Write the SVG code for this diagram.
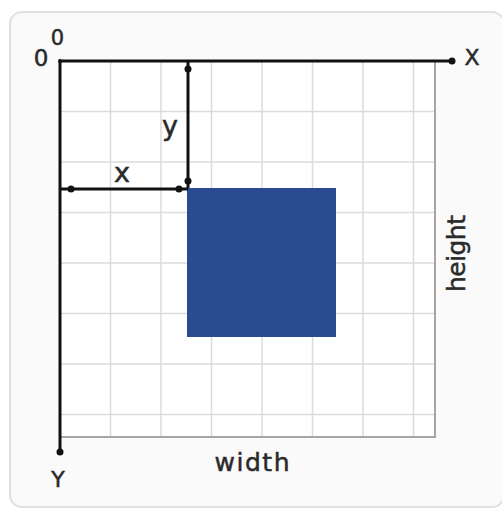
<svg xmlns="http://www.w3.org/2000/svg" width="502" height="509" viewBox="0 0 502 509">
  <defs>
    <style>
      .grid { stroke: #dedada; stroke-width: 1.5; fill: none; }
      .axis { stroke: #111; stroke-width: 3; fill: none; stroke-linecap: butt; }
      .dot { fill: #111; }
      .lbl { font-family: "DejaVu Sans", "Liberation Sans", sans-serif; fill: #2a2a2a; stroke: #2a2a2a; stroke-width: 0.5; }
    </style>
  </defs>
  <g id="panel">
    <rect x="10" y="12" width="494" height="495" rx="12" ry="12" fill="#fafafa" stroke="#e0e0e0" stroke-width="2"/>
    <rect x="60" y="61" width="375" height="376" fill="#ffffff"/>
  </g>
  <g id="grid">
    <path class="grid" d="M110.5 61V437M161 61V437M211.5 61V437M262 61V437M312.5 61V437M363 61V437M413.5 61V437
      M60 111.5H435M60 162H435M60 212.5H435M60 263H435M60 313.5H435M60 364H435M60 414.5H435"/>
    <path d="M435 61V437H60" stroke="#a8a4a4" stroke-width="2" fill="none"/>
  </g>
  <g id="rect">
    <rect x="187" y="188" width="149" height="149" fill="#2a4b91"/>
  </g>
  <g id="connectors">
    <path class="axis" d="M60 61H452"/>
    <path class="axis" d="M60 61V452"/>
    <circle class="dot" cx="452" cy="61" r="3.5"/>
    <circle class="dot" cx="60" cy="452" r="3.5"/>
    <circle class="dot" cx="60" cy="61" r="2"/>
    <path class="axis" d="M188 61V188"/>
    <circle class="dot" cx="188" cy="69" r="3.5"/>
    <circle class="dot" cx="188" cy="181" r="3.5"/>
    <path class="axis" d="M60 189H188"/>
    <circle class="dot" cx="71" cy="189" r="3.5"/>
    <circle class="dot" cx="179" cy="189" r="3.5"/>
  </g>
  <g id="labels">
    <text class="lbl" x="57.5" y="45" font-size="21" text-anchor="middle">0</text>
    <text class="lbl" x="41" y="66" font-size="23" text-anchor="middle">0</text>
    <text class="lbl" x="472" y="65" font-size="22" text-anchor="middle">X</text>
    <text class="lbl" x="58" y="487" font-size="22" text-anchor="middle">Y</text>
    <text class="lbl" x="170" y="135" font-size="27" text-anchor="middle">y</text>
    <text class="lbl" x="122" y="182" font-size="27" text-anchor="middle">x</text>
    <text class="lbl" x="252" y="471" font-size="25" text-anchor="middle" textLength="75" lengthAdjust="spacing">width</text>
    <text class="lbl" transform="translate(465 253.5) rotate(-90)" x="0" y="0" font-size="25" text-anchor="middle" textLength="77" lengthAdjust="spacing">height</text>
  </g>
</svg>
